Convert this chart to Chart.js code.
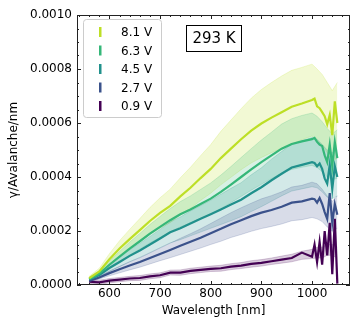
<!DOCTYPE html>
<html>
<head>
<meta charset="utf-8">
<script src="https://cdn.jsdelivr.net/npm/chart.js@4.4.0/dist/chart.umd.min.js"></script>
<style>
  html, body { margin: 0; padding: 0; background: #fff; }
</style>
</head>
<body>
<canvas id="yieldChart" width="360" height="330"></canvas>
<script>
// mean curves (wavelength in nm)
const wavelengths = [560,580,600,620,640,660,680,700,720,740,760,780,800,820,840,860,880,900,920,940,960,980,1000,
  1005,1010,1015,1020,1025,1030,1035,1040,1045,1050];

const mean81 = [0.000025,0.000050,0.000095,0.000135,0.000170,0.000203,0.000237,0.000267,0.000293,0.000328,0.000360,0.000396,0.000430,0.000470,0.000505,0.000540,0.000572,0.000598,0.000620,0.000640,0.000660,0.000672,0.000685,
  0.000690,0.000662,0.000655,0.000640,0.000625,0.000595,0.000630,0.000555,0.000680,0.000600];
const mean63 = [0.000022,0.000042,0.000075,0.000105,0.000135,0.000162,0.000190,0.000215,0.000240,0.000262,0.000280,0.000300,0.000320,0.000345,0.000372,0.000400,0.000428,0.000455,0.000480,0.000505,0.000522,0.000532,0.000540,
  0.000545,0.000530,0.000520,0.000515,0.000480,0.000455,0.000520,0.000440,0.000530,0.000470];
const mean45 = [0.000020,0.000037,0.000063,0.000085,0.000108,0.000128,0.000150,0.000172,0.000195,0.000210,0.000228,0.000245,0.000262,0.000280,0.000298,0.000316,0.000340,0.000362,0.000388,0.000412,0.000435,0.000445,0.000455,
  0.000452,0.000440,0.000450,0.000430,0.000395,0.000375,0.000445,0.000355,0.000440,0.000400];
const mean27 = [0.000015,0.000028,0.000044,0.000058,0.000072,0.000085,0.000100,0.000115,0.000130,0.000145,0.000160,0.000175,0.000192,0.000208,0.000225,0.000240,0.000255,0.000268,0.000278,0.000290,0.000305,0.000310,0.000320,
  0.000318,0.000305,0.000322,0.000300,0.000270,0.000245,0.000340,0.000230,0.000300,0.000260];
const mean09 = [0.000012,0.000010,0.000016,0.000020,0.000024,0.000026,0.000032,0.000036,0.000046,0.000046,0.000052,0.000056,0.000060,0.000062,0.000068,0.000072,0.000078,0.000082,0.000088,0.000094,0.000100,0.000120,0.000105,
  0.000150,0.000085,0.000160,0.000075,0.000200,0.000110,0.000230,0.000040,0.000245,0.000005];

// uncertainty bands
const bandWl = [560,580,600,620,640,660,680,700,720,740,760,780,800,820,840,860,880,900,920,940,960,980,1000,1010,1020,1030,1040,1050];

const hi81 = [0.000032,0.000062,0.000116,0.000164,0.000206,0.000246,0.000287,0.000323,0.000355,0.000397,0.000436,0.000479,0.000520,0.000569,0.000611,0.000653,0.000692,0.000724,0.000750,0.000774,0.000795,0.000806,0.000818,0.000800,0.000780,0.000750,0.000720,0.000750];
const lo81 = [0.000019,0.000039,0.000075,0.000106,0.000134,0.000160,0.000187,0.000211,0.000231,0.000259,0.000284,0.000313,0.000340,0.000371,0.000399,0.000427,0.000452,0.000472,0.000490,0.000506,0.000523,0.000538,0.000552,0.000535,0.000520,0.000490,0.000460,0.000470];
const hi63 = [0.000026,0.000050,0.000089,0.000124,0.000159,0.000191,0.000224,0.000254,0.000283,0.000309,0.000330,0.000354,0.000378,0.000407,0.000439,0.000472,0.000505,0.000537,0.000566,0.000596,0.000616,0.000628,0.000637,0.000625,0.000605,0.000580,0.000560,0.000575];
const lo63 = [0.000018,0.000034,0.000062,0.000086,0.000111,0.000133,0.000156,0.000176,0.000197,0.000215,0.000230,0.000246,0.000262,0.000283,0.000305,0.000328,0.000351,0.000373,0.000394,0.000414,0.000428,0.000436,0.000443,0.000435,0.000420,0.000400,0.000390,0.000395];
const hi45 = [0.000024,0.000044,0.000076,0.000102,0.000130,0.000154,0.000180,0.000206,0.000234,0.000252,0.000274,0.000294,0.000314,0.000336,0.000358,0.000379,0.000408,0.000434,0.000466,0.000494,0.000522,0.000534,0.000546,0.000540,0.000520,0.000500,0.000490,0.000500];
const lo45 = [0.000016,0.000030,0.000050,0.000068,0.000086,0.000102,0.000120,0.000138,0.000156,0.000168,0.000182,0.000196,0.000210,0.000224,0.000238,0.000253,0.000272,0.000290,0.000310,0.000330,0.000348,0.000356,0.000364,0.000360,0.000345,0.000325,0.000320,0.000330];
const hi27 = [0.000018,0.000033,0.000052,0.000069,0.000086,0.000101,0.000119,0.000137,0.000155,0.000173,0.000190,0.000208,0.000228,0.000248,0.000268,0.000286,0.000303,0.000319,0.000331,0.000345,0.000363,0.000369,0.000381,0.000375,0.000355,0.000330,0.000310,0.000330];
const lo27 = [0.000012,0.000022,0.000034,0.000045,0.000056,0.000066,0.000078,0.000090,0.000101,0.000113,0.000125,0.000137,0.000150,0.000162,0.000176,0.000187,0.000199,0.000209,0.000217,0.000226,0.000238,0.000242,0.000250,0.000245,0.000235,0.000215,0.000200,0.000210];
const hi09 = [0.000020,0.000018,0.000024,0.000028,0.000032,0.000035,0.000041,0.000045,0.000055,0.000056,0.000062,0.000066,0.000070,0.000073,0.000079,0.000083,0.000090,0.000094,0.000100,0.000107,0.000114,0.000125,0.000132,0.000140,0.000140,0.000150,0.000150,0.000140];
const lo09 = [0.000004,0.000002,0.000008,0.000012,0.000016,0.000017,0.000023,0.000027,0.000037,0.000036,0.000042,0.000046,0.000050,0.000051,0.000057,0.000061,0.000066,0.000070,0.000076,0.000081,0.000086,0.000095,0.000098,0.000100,0.000100,0.000110,0.000110,0.000100];

const voltages = ['8.1 V', '6.3 V', '4.5 V', '2.7 V', '0.9 V'];
const colors = ['#bddf26', '#35b779', '#21918c', '#3b528b', '#440154'];
const means = [mean81, mean63, mean45, mean27, mean09];
const highs = [hi81, hi63, hi45, hi27, hi09];
const lows = [lo81, lo63, lo45, lo27, lo09];

const xTicks = [600, 700, 800, 900, 1000];
const yTicks = [0, 0.0002, 0.0004, 0.0006, 0.0008, 0.0010];

const FONT = 'DejaVu Sans';

function toPoints(xs, ys) {
  return xs.map((x, i) => ({ x: x, y: ys[i] }));
}

function fade(hex, a) {
  const n = parseInt(hex.slice(1), 16);
  return `rgba(${(n >> 16) & 255}, ${(n >> 8) & 255}, ${n & 255}, ${a})`;
}

const datasets = [];
// lines first so they sit on top
voltages.forEach((v, i) => {
  datasets.push({
    label: v,
    data: toPoints(wavelengths, means[i]),
    borderColor: colors[i],
    borderWidth: 2.2,
    pointRadius: 0,
    fill: false,
    order: 0,
  });
});
// shaded bands: lower edge, then upper edge filled down to it
voltages.slice().reverse().forEach((v, k) => {
  const i = voltages.length - 1 - k;
  datasets.push({
    label: v + ' low',
    data: toPoints(bandWl, lows[i]),
    borderColor: fade(colors[i], 0.25),
    borderWidth: 0.8,
    pointRadius: 0,
    fill: false,
    order: 1,
  });
  datasets.push({
    label: v + ' high',
    data: toPoints(bandWl, highs[i]),
    borderColor: fade(colors[i], 0.25),
    borderWidth: 0.8,
    backgroundColor: fade(colors[i], 0.2),
    pointRadius: 0,
    fill: '-1',
    order: 1,
  });
});

// inward ticks, frame, legend and temperature box
const decorations = {
  id: 'decorations',
  afterDraw(chart) {
    const { ctx, chartArea: a, scales: { x, y } } = chart;
    ctx.save();
    ctx.strokeStyle = '#222';
    ctx.lineWidth = 1;

    ctx.beginPath();
    for (let v = 540; v <= 1070; v += 20) {
      const px = Math.round(x.getPixelForValue(v)) + 0.5;
      const len = v % 100 === 0 ? 4 : 2;
      ctx.moveTo(px, a.bottom); ctx.lineTo(px, a.bottom - len);
      ctx.moveTo(px, a.top); ctx.lineTo(px, a.top + len);
    }
    for (let k = 0; k <= 20; k++) {
      const v = k * 0.00005;
      const py = Math.round(y.getPixelForValue(v)) + 0.5;
      const len = k % 4 === 0 ? 4 : 2;
      ctx.moveTo(a.left, py); ctx.lineTo(a.left + len, py);
      ctx.moveTo(a.right, py); ctx.lineTo(a.right - len, py);
    }
    ctx.stroke();

    ctx.strokeStyle = '#222';
    ctx.strokeRect(a.left + 0.5, a.top + 0.5, a.right - a.left - 1, a.bottom - a.top - 1);

    // legend
    ctx.fillStyle = 'rgba(255,255,255,0.85)';
    ctx.strokeStyle = '#cccccc';
    ctx.beginPath();
    ctx.roundRect(83.5, 19.5, 78, 98, 3);
    ctx.fill();
    ctx.stroke();
    ctx.font = `12px "${FONT}"`;
    ctx.textBaseline = 'middle';
    ctx.textAlign = 'left';
    voltages.forEach((v, i) => {
      const cy = 32 + i * 18.5;
      ctx.fillStyle = colors[i];
      ctx.fillRect(99, cy - 5, 2.5, 10);
      ctx.fillStyle = '#000';
      ctx.fillText(v, 121, cy + 1);
    });

    // temperature box
    ctx.fillStyle = '#fff';
    ctx.fillRect(186, 25, 55, 26);
    ctx.strokeStyle = '#000';
    ctx.strokeRect(186.5, 25.5, 55, 26);
    ctx.fillStyle = '#000';
    ctx.font = `15px "${FONT}"`;
    ctx.textAlign = 'center';
    ctx.fillText('293 K', 214, 39);
    ctx.restore();
  }
};

new Chart(document.getElementById('yieldChart'), {
  type: 'line',
  data: { datasets: datasets },
  options: {
    responsive: false,
    animation: false,
    devicePixelRatio: 1,
    layout: { padding: { top: 15, right: 10, left: 0, bottom: 0 } },
    plugins: {
      legend: { display: false },
      tooltip: { enabled: false },
    },
    scales: {
      x: {
        type: 'linear',
        min: 536,
        max: 1075,
        afterBuildTicks: s => { s.ticks = xTicks.map(v => ({ value: v })); },
        afterFit: s => { s.height = 45; },
        ticks: {
          color: '#000',
          padding: 2,
          maxRotation: 0,
          autoSkip: false,
          font: { family: FONT, size: 12 },
          callback: v => String(v),
        },
        grid: { display: false, drawTicks: false },
        border: { display: false },
        title: {
          display: true,
          text: 'Wavelength [nm]',
          color: '#000',
          font: { family: FONT, size: 12 },
          padding: { top: 0, bottom: 12 },
        },
      },
      y: {
        min: 0,
        max: 0.001,
        afterBuildTicks: s => { s.ticks = yTicks.map(v => ({ value: v })); },
        afterFit: s => { s.width = 77; },
        ticks: {
          color: '#000',
          padding: 5,
          font: { family: FONT, size: 12 },
          callback: v => v.toFixed(4),
        },
        grid: { display: false, drawTicks: false },
        border: { display: false },
        title: {
          display: true,
          text: 'γ/Avalanche/nm',
          color: '#000',
          font: { family: FONT, size: 12 },
          padding: { top: 7, bottom: 0 },
        },
      },
    },
  },
  plugins: [decorations],
});
</script>
</body>
</html>
